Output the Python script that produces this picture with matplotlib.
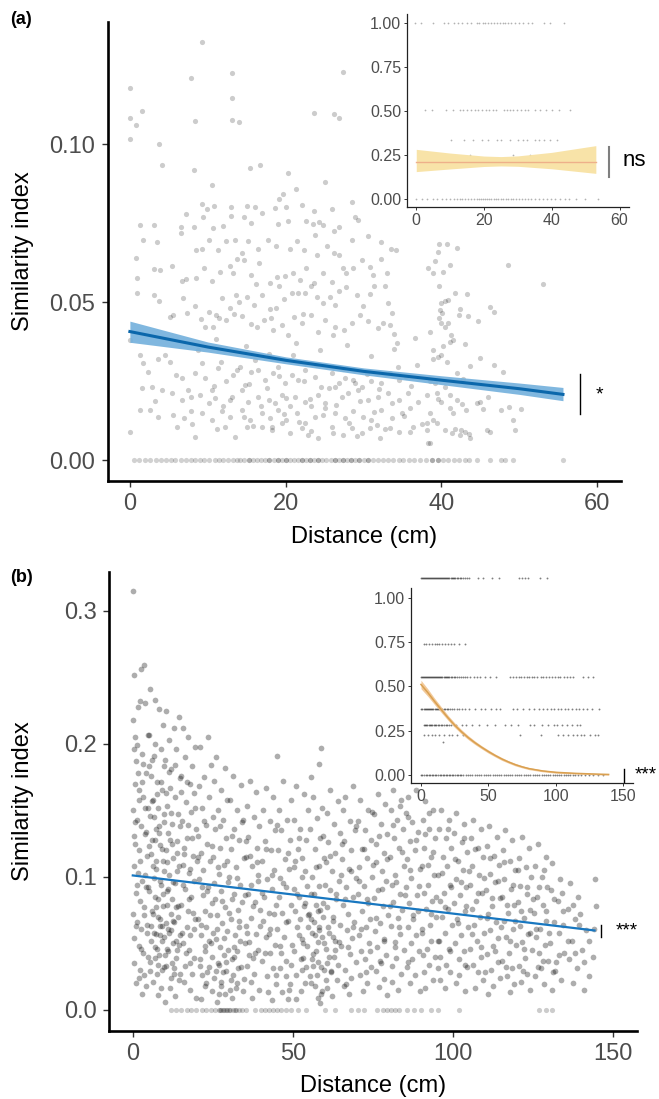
import numpy as np
import matplotlib
matplotlib.use("Agg")
import matplotlib.pyplot as plt

plt.rcParams["font.family"] = ["Liberation Sans", "DejaVu Sans"]

# ---------------- panel (a) main: distance vs similarity ----------------
a_points = [
    (9.3, 0.1323), (7.85, 0.1211), (13.06, 0.1227), (27.4, 0.1230), (0.0, 0.1178), (13.06, 0.1148),
    (0.0, 0.1084), (1.5, 0.1105), (0.8, 0.1061), (0.0, 0.1017), (8.36, 0.1074), (13.06, 0.1077),
    (14.0, 0.1072), (23.6, 0.1100), (26.2, 0.1096), (26.8, 0.1084), (3.74, 0.1002), (4.08, 0.0936),
    (8.23, 0.0918), (15.4, 0.0926), (16.7, 0.0935), (20.3, 0.0910), (25.1, 0.0882), (10.5, 0.0871),
    (19.1, 0.0826), (21.3, 0.0859), (19.6, 0.0843), (9.2, 0.0812), (7.2, 0.0780), (9.9, 0.0795),
    (10.85, 0.0805), (13.0, 0.0802), (15.1, 0.0806), (16.1, 0.0800), (18.6, 0.0797), (20.0, 0.0801),
    (22.05, 0.0807), (23.6, 0.0789), (25.9, 0.0794), (28.5, 0.0817), (1.34, 0.0743), (3.14, 0.0743),
    (6.57, 0.0737), (8.23, 0.0739), (9.4, 0.0769), (10.7, 0.0735), (12.0, 0.0742), (13.0, 0.0774),
    (14.7, 0.0770), (15.6, 0.0750), (17.0, 0.0781), (19.05, 0.0748), (20.3, 0.0758), (22.6, 0.0757),
    (23.5, 0.0749), (24.3, 0.0754), (24.8, 0.0746), (26.2, 0.0726), (26.9, 0.0739), (28.9, 0.0769),
    (29.3, 0.0761), (1.64, 0.0696), (3.44, 0.0692), (6.52, 0.0718), (8.45, 0.0664), (9.2, 0.0669),
    (10.2, 0.0697), (11.35, 0.0666), (12.3, 0.0693), (13.5, 0.0697), (14.35, 0.0655), (15.2, 0.0694),
    (16.5, 0.0669), (17.7, 0.0698), (18.7, 0.0679), (20.6, 0.0668), (21.5, 0.0694), (22.3, 0.0666),
    (23.8, 0.0713), (25.3, 0.0679), (26.2, 0.0655), (26.8, 0.0650), (28.5, 0.0697), (30.6, 0.0711),
    (32.3, 0.0692), (33.5, 0.0668), (34.2, 0.0666), (0.8, 0.0641), (3.1, 0.0604), (3.9, 0.0602),
    (5.45, 0.0615), (7.2, 0.0573), (9.5, 0.0609), (8.5, 0.0576), (10.6, 0.0567), (11.6, 0.0597),
    (12.8, 0.0615), (13.8, 0.0637), (14.65, 0.0634), (15.5, 0.0586), (16.6, 0.0623), (18.0, 0.0560),
    (18.9, 0.0581), (19.9, 0.0583), (21.0, 0.0592), (21.8, 0.0569), (22.6, 0.0608), (23.6, 0.0562),
    (24.8, 0.0592), (25.9, 0.0564), (27.3, 0.0608), (27.8, 0.0592), (28.7, 0.0608), (29.75, 0.0634),
    (30.8, 0.0613), (32.3, 0.0636), (32.96, 0.0592), (0.96, 0.0576), (0.96, 0.0528), (3.14, 0.0524),
    (3.8, 0.0504), (6.65, 0.0566), (8.3, 0.0489), (6.8, 0.0512), (10.2, 0.0468), (11.05, 0.0460),
    (11.8, 0.0512), (12.85, 0.0481), (13.6, 0.0523), (14.0, 0.0502), (15.0, 0.0515), (15.9, 0.0491),
    (16.9, 0.0523), (18.0, 0.0479), (19.1, 0.0550), (19.8, 0.0509), (20.8, 0.0530), (21.6, 0.0530),
    (22.5, 0.0528), (23.2, 0.0550), (24.0, 0.0518), (24.8, 0.0499), (25.7, 0.0516), (26.3, 0.0491),
    (26.8, 0.0534), (27.8, 0.0547), (29.1, 0.0523), (30.8, 0.0525), (31.4, 0.0550), (32.7, 0.0550),
    (33.2, 0.0497), (33.6, 0.0465), (5.6, 0.0460), (5.2, 0.0452), (7.3, 0.0465), (9.1, 0.0447),
    (9.6, 0.0423), (10.7, 0.0421), (11.5, 0.0449), (12.4, 0.0444), (13.4, 0.0462), (14.35, 0.0455),
    (15.5, 0.0430), (16.3, 0.0423), (17.2, 0.0444), (18.1, 0.0451), (18.4, 0.0412), (19.5, 0.0428),
    (20.3, 0.0396), (21.1, 0.0454), (22.05, 0.0433), (23.3, 0.0460), (24.2, 0.0407), (25.0, 0.0444),
    (26.3, 0.0423), (27.5, 0.0412), (28.5, 0.0433), (29.5, 0.0460), (30.6, 0.0439), (31.9, 0.0418),
    (32.5, 0.0433), (33.4, 0.0428), (33.9, 0.0399), (34.3, 0.0370), (0.0, 0.0381), (1.26, 0.0333),
    (2.37, 0.0280), (1.7, 0.0307), (3.56, 0.0319), (4.5, 0.0333), (5.15, 0.0312), (6.65, 0.0259),
    (8.36, 0.0275), (9.2, 0.0307), (9.6, 0.0259), (10.5, 0.0222), (11.35, 0.0291), (12.4, 0.0249),
    (13.3, 0.0270), (14.1, 0.0296), (14.8, 0.0238), (15.6, 0.0280), (16.5, 0.0286), (17.3, 0.0254),
    (18.4, 0.0275), (19.05, 0.0296), (19.9, 0.0243), (20.8, 0.0270), (21.6, 0.0254), (22.5, 0.0286),
    (23.8, 0.0264), (24.6, 0.0233), (25.9, 0.0275), (26.8, 0.0243), (27.6, 0.0259), (28.7, 0.0254),
    (29.75, 0.0233), (31.0, 0.0249), (32.3, 0.0243), (33.4, 0.0275), (34.5, 0.0254), (35.5, 0.0264),
    (36.8, 0.0301), (1.5, 0.0228), (2.8, 0.0233), (4.1, 0.0222), (5.4, 0.0212), (6.65, 0.0191),
    (7.9, 0.0201), (9.0, 0.0206), (10.1, 0.0180), (10.9, 0.0196), (12.0, 0.0170), (13.1, 0.0201),
    (14.35, 0.0222), (15.2, 0.0185), (16.5, 0.0201), (17.8, 0.0191), (18.6, 0.0180), (19.5, 0.0206),
    (20.6, 0.0170), (21.2, 0.0201), (22.5, 0.0185), (23.3, 0.0170), (24.2, 0.0206), (25.0, 0.0180),
    (26.3, 0.0233), (27.2, 0.0201), (28.0, 0.0212), (29.3, 0.0222), (30.6, 0.0191), (31.9, 0.0201),
    (33.2, 0.0212), (34.5, 0.0191), (35.7, 0.0212), (1.3, 0.0159), (2.6, 0.0159), (3.65, 0.0138),
    (5.6, 0.0143), (6.9, 0.0133), (7.9, 0.0154), (9.2, 0.0148), (10.5, 0.0127), (11.8, 0.0154),
    (12.85, 0.0138), (14.35, 0.0159), (15.4, 0.0127), (16.9, 0.0148), (18.0, 0.0133), (19.05, 0.0159),
    (20.1, 0.0127), (21.4, 0.0148), (22.5, 0.0117), (23.8, 0.0138), (25.0, 0.0164), (26.3, 0.0148),
    (27.6, 0.0133), (28.7, 0.0154), (29.95, 0.0138), (31.0, 0.0127), (32.3, 0.0159), (33.6, 0.0133),
    (34.9, 0.0148), (36.0, 0.0164), (0.0, 0.0088), (6.05, 0.0104), (8.0, 0.0113), (8.36, 0.0074),
    (11.2, 0.0098), (12.2, 0.0104), (13.5, 0.0074), (15.0, 0.0104), (15.85, 0.0108), (16.9, 0.0104),
    (18.2, 0.0096), (19.5, 0.0117), (20.55, 0.0085), (22.05, 0.0101), (23.3, 0.0093), (24.2, 0.0069),
    (26.1, 0.0085), (27.4, 0.0080), (28.5, 0.0101), (29.75, 0.0085), (30.8, 0.0101), (32.1, 0.0069),
    (33.4, 0.0101), (34.5, 0.0090), (36.4, 0.0106), (37.5, 0.0114),
    (39.7, 0.0685), (40.65, 0.0684), (42.0, 0.0671), (39.6, 0.0660), (39.2, 0.0629), (41.1, 0.0618),
    (38.3, 0.0608), (38.95, 0.0594), (40.2, 0.0597), (48.6, 0.0618), (53.0, 0.0557), (39.7, 0.0550),
    (41.7, 0.0530), (43.3, 0.0525), (40.5, 0.0504), (40.9, 0.0507), (40.0, 0.0497), (39.8, 0.0476),
    (40.1, 0.0465), (42.4, 0.0479), (42.3, 0.0458), (43.4, 0.0455), (44.7, 0.0441), (46.2, 0.0486),
    (46.7, 0.0468), (39.7, 0.0449), (40.0, 0.0434), (40.8, 0.0434), (40.5, 0.0423), (38.5, 0.0407),
    (41.2, 0.0396), (41.1, 0.0375), (41.5, 0.0381), (40.2, 0.0362), (43.0, 0.0368), (38.95, 0.0349),
    (39.6, 0.0328), (40.0, 0.0333), (40.65, 0.0312), (38.95, 0.0320), (43.7, 0.0298), (44.9, 0.0323),
    (46.7, 0.0302), (47.85, 0.0280), (42.0, 0.0275), (42.8, 0.0256), (38.5, 0.0249), (39.4, 0.0212),
    (40.5, 0.0233), (41.1, 0.0207), (42.0, 0.0191), (42.6, 0.0178), (43.2, 0.0159), (41.5, 0.0148),
    (39.6, 0.0193), (40.0, 0.0185), (38.5, 0.0148), (41.1, 0.0164), (44.5, 0.0180), (44.9, 0.0183),
    (45.3, 0.0162), (46.0, 0.0201), (47.6, 0.0159), (48.7, 0.0167), (50.2, 0.0161), (49.2, 0.0127),
    (49.4, 0.0096), (45.8, 0.0096), (46.2, 0.0090), (38.1, 0.0096), (40.5, 0.0096), (41.3, 0.0087),
    (41.7, 0.0098), (42.5, 0.0096), (43.0, 0.0089), (43.6, 0.0082), (43.7, 0.0071), (42.4, 0.0080),
    (38.3, 0.0053), (38.5, 0.0053), (38.95, 0.0127), (39.4, 0.0117), (38.1, 0.0117), (38.2, 0.0207),
    (39.2, 0.0243),
    (10.8, 0.0235), (11.7, 0.0312), (12.9, 0.0189), (13.8, 0.0286), (14.6, 0.0135), (15.3, 0.0241),
    (16.0, 0.0318), (16.8, 0.0172), (17.6, 0.0228), (18.3, 0.0105), (19.2, 0.0265), (20.0, 0.0198),
    (20.9, 0.0332), (21.7, 0.0121), (22.4, 0.0249), (23.1, 0.0192), (23.9, 0.0301), (24.8, 0.0143),
    (25.6, 0.0228), (26.5, 0.0176), (27.3, 0.0289), (28.1, 0.0118), (28.9, 0.0243), (29.6, 0.0187),
    (30.4, 0.0272), (31.3, 0.0151), (32.0, 0.0226), (32.8, 0.0098), (33.7, 0.0181), (34.4, 0.0296),
    (35.2, 0.0139), (36.1, 0.0235), (37.0, 0.0183), (5.9, 0.0268), (7.4, 0.0221), (3.2, 0.0186),
    (8.8, 0.0349), (11.1, 0.0385), (14.9, 0.0362), (17.9, 0.0337), (21.3, 0.0372), (24.4, 0.0348),
    (27.9, 0.0364), (30.9, 0.0331), (33.9, 0.0352), (36.6, 0.0387), (19.8, 0.0145), (22.9, 0.0079),
    (26.0, 0.0106), (29.2, 0.0077), (31.7, 0.0112), (35.9, 0.0090), (18.8, 0.0481), (22.2, 0.0463),
    (26.1, 0.0395), (29.9, 0.0488), (16.2, 0.0557), (24.0, 0.0651), (31.2, 0.0587), (13.2, 0.0593),
]
a_zero_x = [
    0.5, 1.2, 2.0, 2.6, 3.3, 4.0, 4.6, 5.3, 5.8, 6.5, 7.2, 7.8, 8.4, 9.0, 9.5, 10.2, 10.9, 11.5,
    12.0, 12.6, 13.2, 13.8, 14.2, 14.7, 15.3, 15.3, 15.8, 16.3, 16.8, 17.4, 17.9, 17.9, 18.5, 19.0,
    19.0, 19.5, 20.0, 20.0, 20.5, 21.1, 21.6, 22.1, 22.1, 22.6, 23.1, 23.1, 23.7, 24.2, 24.2, 24.7,
    25.2, 25.8, 26.3, 26.3, 26.8, 27.3, 27.3, 27.9, 28.4, 28.4, 28.9, 29.4, 29.4, 30.0, 30.6, 30.6,
    31.2, 31.8, 32.5, 33.1, 33.8, 34.5, 35.1, 35.8, 36.5, 37.2, 38.0, 38.8, 38.8, 39.5, 39.5, 40.2,
    40.9, 41.6, 42.3, 43.0, 43.6, 44.5, 46.2, 47.7, 48.1, 49.2, 55.6,
]
a_fit_x = [0, 10, 20, 30, 40, 50, 55.6]
a_fit_y = [0.0407, 0.0358, 0.0316, 0.0281, 0.0253, 0.0226, 0.0208]
a_fit_lo = [0.0373, 0.0342, 0.0305, 0.0270, 0.0239, 0.0208, 0.0188]
a_fit_hi = [0.0440, 0.0374, 0.0327, 0.0292, 0.0267, 0.0244, 0.0230]

# ---------------- panel (a) inset ----------------
ia_rows_y = [1.0, 0.505, 0.336, 0.25, 0.0]
ia_rows_x = [
    [-0.5, 1.5, 4.8, 8.2, 9.5, 11.0, 12.3, 13.6, 15.0, 16.2, 17.8, 18.5, 19.6, 20.4, 21.3, 22.1, 23.0,
     23.8, 24.6, 25.5, 26.3, 27.2, 28.0, 29.1, 30.3, 31.5, 33.0, 34.2, 37.8, 39.6, 43.6],
    [2.5, 4.6, 8.7, 10.9, 12.8, 13.9, 15.0, 16.1, 17.2, 18.3, 19.4, 20.5, 21.6, 22.7, 23.6, 25.8,
     26.9, 27.8, 28.7, 29.8, 30.9, 32.0, 33.1, 35.0, 36.5, 38.2, 40.1, 42.0, 45.5],
    [10.3, 14.2, 16.8, 19.5, 21.2, 23.8, 25.1, 27.6, 30.0, 31.4, 32.8, 34.9, 36.2, 37.7, 39.5, 41.5],
    [16.0, 28.6, 33.7],
    [0.0, 1.6, 3.1, 4.8, 6.2, 7.5, 8.9, 10.1, 11.2, 12.0, 12.8, 13.6, 14.4, 15.3, 16.1, 17.0, 17.8,
     18.4, 19.1, 19.7, 20.3, 20.9, 21.5, 22.1, 22.8, 23.4, 24.1, 24.9, 25.6, 26.4, 27.2, 28.0, 28.7,
     29.5, 30.4, 31.3, 32.2, 33.1, 34.0, 35.0, 36.1, 37.3, 38.6, 39.9, 41.0, 42.5, 44.0, 45.2, 47.0,
     49.8, 53.5],
]
ia_fit_x = [0, 10, 20, 25, 30, 40, 53]
ia_fit_y = [0.213, 0.213, 0.213, 0.213, 0.213, 0.213, 0.213]
ia_fit_lo = [0.157, 0.172, 0.186, 0.189, 0.187, 0.173, 0.147]
ia_fit_hi = [0.283, 0.262, 0.245, 0.242, 0.246, 0.266, 0.304]

# ---------------- panel (b) main ----------------
b_points = [
    (0.0, 0.315), (0.3, 0.252), (2.6, 0.256), (3.4, 0.259), (0.2, 0.218), (0.8, 0.205), (1.5, 0.228),
    (2.2, 0.232), (3.9, 0.231), (0.4, 0.196), (1.1, 0.187), (2.8, 0.192), (4.2, 0.178), (0.6, 0.170),
    (1.9, 0.165), (3.3, 0.160), (4.6, 0.152), (0.1, 0.150), (1.4, 0.143), (2.5, 0.138), (3.8, 0.132),
    (0.7, 0.125), (2.0, 0.120), (4.4, 0.116), (0.3, 0.108), (1.6, 0.103), (3.0, 0.097), (4.1, 0.092),
    (0.9, 0.088), (2.3, 0.082), (3.6, 0.077), (0.2, 0.072), (1.3, 0.066), (2.7, 0.061), (4.5, 0.058),
    (0.5, 0.054), (1.8, 0.048), (3.2, 0.043), (4.8, 0.040), (0.4, 0.035), (2.1, 0.030), (3.5, 0.026),
    (1.0, 0.020), (4.0, 0.018), (2.9, 0.012),
    (5.5, 0.241), (6.8, 0.233), (8.2, 0.226), (9.4, 0.214), (5.2, 0.207), (7.0, 0.200), (8.8, 0.196),
    (6.1, 0.188), (9.7, 0.183), (5.8, 0.176), (7.6, 0.171), (9.1, 0.165), (6.4, 0.158), (8.0, 0.152),
    (5.3, 0.146), (9.8, 0.141), (7.2, 0.136), (6.0, 0.128), (8.6, 0.124), (5.6, 0.117), (9.3, 0.112),
    (7.4, 0.106), (6.6, 0.099), (8.9, 0.094), (5.1, 0.089), (7.8, 0.083), (9.5, 0.078), (6.2, 0.072),
    (8.4, 0.068), (5.7, 0.063), (7.1, 0.057), (9.0, 0.052), (6.9, 0.047), (8.1, 0.041), (5.4, 0.036),
    (9.6, 0.032), (7.5, 0.027), (6.3, 0.021), (8.7, 0.016), (7.9, 0.011),
    (10.5, 0.225), (12.8, 0.212), (14.3, 0.220), (11.2, 0.203), (13.6, 0.196), (10.1, 0.188),
    (12.0, 0.181), (14.7, 0.174), (11.6, 0.167), (13.1, 0.160), (10.8, 0.153), (14.0, 0.147),
    (12.4, 0.140), (11.0, 0.133), (13.8, 0.127), (10.3, 0.120), (12.6, 0.114), (14.5, 0.108),
    (11.4, 0.101), (13.3, 0.095), (10.6, 0.089), (12.2, 0.083), (14.1, 0.078), (11.8, 0.072),
    (13.0, 0.066), (10.9, 0.061), (14.8, 0.056), (12.5, 0.050), (11.1, 0.044), (13.5, 0.039),
    (10.4, 0.033), (12.9, 0.027), (14.4, 0.022), (11.7, 0.016), (13.2, 0.010), (10.2, 0.006),
    (15.6, 0.212), (17.3, 0.205), (19.4, 0.198), (16.2, 0.190), (18.5, 0.183), (15.1, 0.176),
    (17.8, 0.170), (19.0, 0.163), (16.6, 0.156), (18.1, 0.149), (15.4, 0.142), (19.7, 0.136),
    (17.0, 0.129), (16.0, 0.122), (18.8, 0.116), (15.8, 0.109), (17.5, 0.103), (19.2, 0.097),
    (16.4, 0.091), (18.3, 0.085), (15.2, 0.079), (17.2, 0.074), (19.5, 0.068), (16.8, 0.062),
    (18.0, 0.056), (15.7, 0.050), (17.6, 0.045), (19.1, 0.039), (16.3, 0.033), (18.6, 0.027),
    (15.9, 0.021), (17.9, 0.015), (19.8, 0.009),
    (21.0, 0.198), (23.6, 0.205), (24.4, 0.184), (22.3, 0.175), (20.6, 0.168), (23.8, 0.160),
    (21.7, 0.152), (24.9, 0.145), (22.8, 0.139), (20.3, 0.131), (23.2, 0.125), (21.4, 0.118),
    (24.1, 0.112), (22.0, 0.105), (20.8, 0.098), (23.5, 0.092), (21.9, 0.086), (24.6, 0.080),
    (22.5, 0.074), (20.4, 0.068), (23.0, 0.062), (21.2, 0.056), (24.3, 0.050), (22.6, 0.044),
    (20.9, 0.038), (23.9, 0.032), (21.6, 0.026), (22.9, 0.020), (24.7, 0.014), (21.3, 0.008),
    (26.0, 0.190), (28.7, 0.182), (25.4, 0.172), (27.6, 0.165), (29.5, 0.158), (26.5, 0.150),
    (28.2, 0.143), (25.8, 0.136), (29.0, 0.129), (27.1, 0.122), (25.2, 0.115), (28.5, 0.109),
    (26.8, 0.102), (29.7, 0.096), (27.4, 0.089), (25.6, 0.083), (28.9, 0.077), (26.2, 0.071),
    (27.9, 0.065), (29.3, 0.059), (25.9, 0.053), (27.2, 0.047), (28.4, 0.041), (26.6, 0.035),
    (29.1, 0.029), (25.3, 0.024), (27.7, 0.018), (28.8, 0.012), (26.4, 0.006),
    (31.2, 0.176), (33.8, 0.169), (30.5, 0.158), (32.6, 0.150), (34.4, 0.143), (31.7, 0.136),
    (33.1, 0.128), (30.8, 0.121), (34.7, 0.114), (32.2, 0.107), (30.2, 0.100), (33.5, 0.094),
    (31.5, 0.087), (34.1, 0.081), (32.9, 0.075), (30.6, 0.068), (33.3, 0.062), (31.9, 0.056),
    (34.9, 0.050), (32.4, 0.044), (30.9, 0.038), (33.7, 0.032), (31.4, 0.026), (32.7, 0.020),
    (34.3, 0.014), (31.0, 0.009),
    (36.5, 0.172), (38.4, 0.164), (35.6, 0.153), (37.8, 0.145), (39.5, 0.138), (36.1, 0.130),
    (38.9, 0.122), (35.3, 0.115), (37.2, 0.108), (39.2, 0.101), (36.8, 0.094), (35.9, 0.087),
    (38.2, 0.081), (39.8, 0.075), (37.0, 0.069), (35.4, 0.063), (38.6, 0.057), (36.4, 0.051),
    (39.0, 0.045), (37.5, 0.039), (35.7, 0.033), (38.0, 0.027), (36.9, 0.021), (39.4, 0.015),
    (37.3, 0.009),
    (45.0, 0.191), (41.5, 0.167), (43.8, 0.160), (40.6, 0.150), (42.7, 0.142), (44.5, 0.135),
    (41.2, 0.127), (43.3, 0.120), (40.3, 0.112), (44.1, 0.105), (42.0, 0.098), (43.6, 0.091),
    (41.0, 0.085), (44.8, 0.079), (42.4, 0.073), (40.8, 0.067), (43.0, 0.061), (41.7, 0.055),
    (44.3, 0.049), (42.9, 0.043), (40.5, 0.037), (43.9, 0.031), (41.9, 0.025), (44.6, 0.019),
    (42.2, 0.013), (43.5, 0.007),
    (47.0, 0.172), (49.3, 0.158), (45.8, 0.150), (48.1, 0.143), (46.4, 0.135), (49.0, 0.128),
    (45.3, 0.120), (47.6, 0.113), (48.8, 0.106), (46.0, 0.099), (47.9, 0.092), (45.6, 0.085),
    (49.5, 0.079), (46.7, 0.073), (48.4, 0.067), (45.1, 0.061), (47.3, 0.055), (49.7, 0.049),
    (46.2, 0.043), (48.0, 0.037), (45.9, 0.031), (47.7, 0.025), (49.1, 0.019), (46.5, 0.013),
    (48.6, 0.008),
    (51.0, 0.168), (53.5, 0.162), (54.6, 0.150), (50.4, 0.143), (52.3, 0.136), (54.0, 0.128),
    (51.6, 0.121), (53.0, 0.114), (50.2, 0.107), (52.8, 0.100), (54.4, 0.093), (51.3, 0.087),
    (53.7, 0.080), (50.7, 0.074), (52.1, 0.068), (54.8, 0.062), (51.8, 0.056), (53.2, 0.050),
    (50.5, 0.044), (52.6, 0.038), (54.2, 0.032), (51.1, 0.026), (53.9, 0.020), (52.4, 0.014),
    (50.9, 0.008),
    (55.7, 0.175), (58.3, 0.185), (58.8, 0.197), (56.2, 0.160), (59.1, 0.152), (57.4, 0.144),
    (55.3, 0.136), (58.6, 0.129), (56.8, 0.121), (59.6, 0.114), (57.1, 0.107), (55.9, 0.100),
    (58.0, 0.093), (56.5, 0.087), (59.3, 0.080), (57.7, 0.074), (55.5, 0.068), (58.2, 0.062),
    (56.9, 0.056), (59.8, 0.050), (57.3, 0.044), (56.1, 0.038), (58.9, 0.032), (57.6, 0.026),
    (55.8, 0.020), (59.0, 0.014), (57.9, 0.009), (58.4, 0.005),
    (61.5, 0.165), (64.0, 0.157), (60.5, 0.148), (62.8, 0.140), (64.6, 0.133), (61.0, 0.126),
    (63.3, 0.118), (60.2, 0.111), (62.1, 0.104), (64.3, 0.097), (61.7, 0.090), (63.6, 0.083),
    (60.8, 0.077), (62.5, 0.070), (64.8, 0.064), (61.3, 0.058), (63.0, 0.052), (60.4, 0.046),
    (62.9, 0.040), (64.1, 0.034), (61.9, 0.028), (63.8, 0.022), (60.7, 0.016), (62.3, 0.010),
    (66.3, 0.160), (68.7, 0.168), (65.5, 0.150), (67.9, 0.142), (69.4, 0.135), (66.0, 0.127),
    (68.2, 0.120), (65.3, 0.113), (67.5, 0.106), (69.8, 0.099), (66.6, 0.092), (68.9, 0.085),
    (65.8, 0.079), (67.2, 0.072), (69.1, 0.066), (66.9, 0.060), (68.4, 0.054), (65.1, 0.048),
    (67.7, 0.042), (69.6, 0.036), (66.4, 0.030), (68.0, 0.024), (65.9, 0.018), (67.4, 0.012),
    (71.0, 0.158), (73.6, 0.150), (70.4, 0.142), (72.5, 0.135), (74.3, 0.128), (71.7, 0.121),
    (73.0, 0.114), (70.8, 0.107), (74.7, 0.100), (72.2, 0.093), (70.2, 0.087), (73.4, 0.080),
    (71.5, 0.074), (74.0, 0.068), (72.8, 0.062), (70.6, 0.056), (73.9, 0.050), (71.2, 0.044),
    (72.6, 0.038), (74.5, 0.032), (70.9, 0.026), (73.2, 0.020), (71.9, 0.014),
    (76.5, 0.162), (78.8, 0.155), (75.4, 0.147), (77.6, 0.140), (79.5, 0.132), (76.1, 0.125),
    (78.3, 0.118), (75.8, 0.111), (77.9, 0.104), (79.2, 0.097), (76.7, 0.090), (75.2, 0.084),
    (78.0, 0.078), (79.7, 0.071), (77.1, 0.065), (75.6, 0.059), (78.6, 0.053), (76.3, 0.047),
    (79.0, 0.041), (77.4, 0.035), (75.9, 0.029), (78.4, 0.023), (76.9, 0.017), (79.3, 0.011),
    (81.2, 0.165), (83.8, 0.158), (80.6, 0.150), (82.5, 0.143), (84.4, 0.136), (81.7, 0.129),
    (83.1, 0.122), (80.3, 0.115), (84.8, 0.108), (82.0, 0.101), (80.9, 0.094), (83.5, 0.087),
    (81.4, 0.081), (84.1, 0.075), (82.7, 0.069), (80.5, 0.063), (83.3, 0.057), (81.9, 0.051),
    (84.6, 0.045), (82.3, 0.039), (80.8, 0.033), (83.9, 0.027), (81.1, 0.021), (82.9, 0.015),
    (86.0, 0.160), (88.5, 0.165), (85.4, 0.148), (87.3, 0.141), (89.2, 0.134), (86.6, 0.127),
    (88.0, 0.120), (85.7, 0.113), (89.6, 0.106), (87.0, 0.099), (85.2, 0.092), (88.7, 0.086),
    (86.3, 0.080), (89.0, 0.074), (87.6, 0.068), (85.9, 0.062), (88.3, 0.056), (86.8, 0.050),
    (89.4, 0.044), (87.2, 0.038), (85.5, 0.032), (88.1, 0.026), (86.5, 0.020), (89.8, 0.014),
    (91.3, 0.157), (93.7, 0.150), (90.6, 0.143), (92.4, 0.136), (94.5, 0.129), (91.0, 0.122),
    (93.2, 0.115), (90.3, 0.108), (94.0, 0.101), (92.1, 0.094), (90.8, 0.088), (93.5, 0.082),
    (91.6, 0.076), (94.8, 0.070), (92.8, 0.064), (90.2, 0.058), (93.0, 0.052), (91.9, 0.046),
    (94.3, 0.040), (92.5, 0.034), (90.9, 0.028), (93.8, 0.022), (91.4, 0.016),
    (96.2, 0.150), (98.6, 0.143), (95.5, 0.136), (97.7, 0.129), (99.4, 0.122), (96.8, 0.115),
    (98.1, 0.108), (95.2, 0.101), (99.0, 0.094), (97.1, 0.088), (95.8, 0.082), (98.4, 0.076),
    (96.5, 0.070), (99.7, 0.064), (97.4, 0.058), (95.3, 0.052), (98.8, 0.046), (96.0, 0.040),
    (97.9, 0.034), (99.2, 0.028), (95.9, 0.022), (97.6, 0.016),
    (101.0, 0.148), (103.5, 0.140), (100.4, 0.133), (102.7, 0.126), (104.5, 0.119), (101.6, 0.112),
    (103.0, 0.105), (100.8, 0.098), (104.1, 0.092), (102.2, 0.086), (100.2, 0.080), (103.8, 0.074),
    (101.3, 0.068), (104.7, 0.062), (102.5, 0.056), (100.6, 0.050), (103.3, 0.044), (101.9, 0.038),
    (104.3, 0.032), (102.0, 0.026), (100.9, 0.020), (103.6, 0.014),
    (106.4, 0.143), (108.7, 0.136), (105.6, 0.129), (107.8, 0.122), (109.5, 0.115), (106.0, 0.108),
    (108.2, 0.101), (105.3, 0.094), (109.1, 0.088), (107.2, 0.082), (105.9, 0.076), (108.5, 0.070),
    (106.7, 0.064), (109.8, 0.058), (107.5, 0.052), (105.4, 0.046), (108.9, 0.040), (106.2, 0.034),
    (107.9, 0.028), (109.3, 0.022), (106.9, 0.016),
    (111.2, 0.138), (113.6, 0.130), (110.5, 0.123), (112.8, 0.116), (114.4, 0.109), (111.7, 0.102),
    (113.1, 0.096), (110.3, 0.090), (114.8, 0.084), (112.2, 0.078), (110.9, 0.072), (113.4, 0.066),
    (111.5, 0.060), (114.1, 0.054), (112.6, 0.048), (110.7, 0.042), (113.9, 0.036), (111.9, 0.030),
    (114.6, 0.024), (112.4, 0.018), (111.0, 0.012),
    (116.3, 0.135), (118.5, 0.128), (115.6, 0.120), (117.7, 0.112), (119.4, 0.105), (116.0, 0.098),
    (118.1, 0.091), (115.3, 0.085), (119.0, 0.079), (117.2, 0.073), (115.9, 0.067), (118.8, 0.061),
    (116.6, 0.055), (119.6, 0.049), (117.4, 0.043), (115.4, 0.037), (118.3, 0.031), (116.8, 0.025),
    (119.2, 0.019), (117.9, 0.013),
    (121.5, 0.130), (123.8, 0.122), (120.6, 0.114), (122.7, 0.107), (124.4, 0.100), (121.0, 0.093),
    (123.2, 0.087), (120.3, 0.081), (124.0, 0.075), (122.1, 0.069), (120.9, 0.063), (123.5, 0.057),
    (121.7, 0.051), (124.7, 0.045), (122.4, 0.039), (120.5, 0.033), (123.0, 0.027), (121.3, 0.021),
    (124.2, 0.015),
    (126.6, 0.125), (128.9, 0.115), (125.5, 0.108), (127.8, 0.100), (129.4, 0.092), (126.1, 0.085),
    (128.2, 0.079), (125.3, 0.073), (129.0, 0.067), (127.3, 0.061), (125.9, 0.055), (128.6, 0.049),
    (126.8, 0.043), (129.7, 0.037), (127.5, 0.031), (125.7, 0.025), (128.4, 0.019),
    (131.0, 0.110), (133.5, 0.098), (130.6, 0.090), (132.7, 0.082), (134.2, 0.074), (131.5, 0.066),
    (133.0, 0.058), (130.3, 0.050), (134.6, 0.043), (132.1, 0.036), (131.8, 0.029), (133.8, 0.022),
    (130.9, 0.015),
    (136.5, 0.095), (139.0, 0.085), (135.8, 0.076), (138.2, 0.068), (141.5, 0.060), (137.1, 0.052),
    (140.2, 0.045), (136.2, 0.038), (143.7, 0.040), (138.8, 0.031), (142.4, 0.025), (144.5, 0.098),
    (144.8, 0.078), (137.6, 0.020), (140.8, 0.015),
    # darker clusters
    (6.5, 0.145), (8.3, 0.138), (11.5, 0.128), (13.9, 0.118), (7.3, 0.112), (9.9, 0.104),
    (12.7, 0.096), (6.9, 0.085), (10.7, 0.079), (14.2, 0.070), (8.5, 0.063), (11.3, 0.058),
    (13.4, 0.052), (7.7, 0.046), (10.0, 0.041), (12.3, 0.035), (9.2, 0.030), (11.9, 0.024),
    (8.0, 0.070), (10.4, 0.065), (12.0, 0.060), (6.7, 0.058), (9.6, 0.055), (13.7, 0.045),
    (51.8, 0.085), (53.4, 0.078), (55.0, 0.072), (56.7, 0.066), (58.1, 0.060), (59.5, 0.070),
    (60.9, 0.062), (62.6, 0.055), (54.5, 0.048), (56.3, 0.042), (57.9, 0.036), (59.7, 0.030),
    (61.2, 0.040), (63.1, 0.045), (52.7, 0.030), (55.4, 0.025), (57.0, 0.018), (58.7, 0.012),
    (60.3, 0.022), (22.4, 0.048), (24.8, 0.040), (26.9, 0.034), (28.3, 0.028), (30.7, 0.022),
    (32.3, 0.016), (27.0, 0.012), (29.6, 0.045), (31.6, 0.040), (25.1, 0.058), (23.3, 0.028),
    (33.6, 0.052),
]
b_points_more = [
    (0.6, 0.141), (1.7, 0.178), (2.4, 0.112), (3.1, 0.185), (4.3, 0.064), (5.0, 0.123), (5.9, 0.157),
    (6.6, 0.191), (7.4, 0.077), (8.1, 0.133), (8.9, 0.171), (9.5, 0.087), (1.2, 0.094), (2.0, 0.158),
    (3.7, 0.101), (4.7, 0.207), (6.3, 0.108), (7.7, 0.162), (9.2, 0.121), (0.9, 0.063), (2.6, 0.046),
    (4.0, 0.134), (5.6, 0.052), (6.9, 0.039), (8.6, 0.097), (9.9, 0.147), (1.4, 0.199), (3.4, 0.071),
    (5.2, 0.183), (7.0, 0.128), (8.4, 0.056), (0.3, 0.131), (2.9, 0.171), (4.9, 0.092), (6.0, 0.074),
    (7.8, 0.034), (9.0, 0.063), (1.9, 0.024), (5.4, 0.029), (3.9, 0.152),
    (10.3, 0.163), (11.1, 0.091), (11.9, 0.148), (12.5, 0.067), (13.2, 0.184), (13.9, 0.104),
    (14.6, 0.138), (15.3, 0.058), (16.1, 0.117), (16.9, 0.171), (17.6, 0.083), (18.4, 0.129),
    (19.2, 0.061), (19.9, 0.112), (10.8, 0.046), (12.2, 0.125), (13.6, 0.077), (15.0, 0.164),
    (16.5, 0.043), (17.9, 0.106), (19.5, 0.152), (11.4, 0.179), (14.3, 0.049), (18.0, 0.035),
    (12.9, 0.031), (15.7, 0.094), (17.1, 0.139), (18.7, 0.073), (10.6, 0.111), (14.9, 0.027),
    (20.5, 0.115), (21.3, 0.064), (22.2, 0.142), (23.1, 0.089), (23.9, 0.052), (24.7, 0.123),
    (25.5, 0.095), (26.3, 0.061), (27.1, 0.138), (27.9, 0.082), (28.6, 0.054), (29.4, 0.112),
    (30.1, 0.073), (30.9, 0.131), (31.7, 0.047), (32.5, 0.099), (33.3, 0.067), (34.1, 0.141),
    (34.9, 0.086), (35.8, 0.058), (36.6, 0.116), (37.4, 0.078), (38.2, 0.043), (39.1, 0.097),
    (39.8, 0.063), (20.9, 0.033), (22.7, 0.018), (24.1, 0.071), (25.9, 0.029), (27.5, 0.021),
    (29.0, 0.036), (31.1, 0.083), (32.9, 0.031), (34.6, 0.023), (36.2, 0.041), (38.7, 0.111),
    (21.7, 0.092), (26.7, 0.107), (30.5, 0.015), (35.2, 0.127),
    (40.4, 0.088), (41.6, 0.121), (42.5, 0.057), (43.4, 0.101), (44.2, 0.072), (45.1, 0.139),
    (46.0, 0.048), (46.8, 0.095), (47.7, 0.066), (48.5, 0.118), (49.4, 0.034), (50.3, 0.091),
    (51.2, 0.062), (52.0, 0.129), (52.9, 0.053), (53.8, 0.104), (54.7, 0.071), (55.6, 0.087),
    (56.4, 0.033), (57.3, 0.079), (58.2, 0.108), (59.1, 0.055), (60.0, 0.094), (60.8, 0.035),
    (61.7, 0.116), (62.6, 0.067), (63.5, 0.087), (64.4, 0.051), (65.3, 0.125), (66.2, 0.083),
    (67.1, 0.047), (68.0, 0.104), (68.9, 0.062), (69.8, 0.138), (44.6, 0.026), (48.9, 0.015),
    (53.3, 0.039), (57.8, 0.051), (62.0, 0.029), (66.7, 0.019), (41.2, 0.043), (50.8, 0.112),
    (59.4, 0.131), (64.9, 0.101), (56.0, 0.058), (58.6, 0.075),
    (70.5, 0.097), (71.4, 0.061), (72.3, 0.121), (73.2, 0.083), (74.1, 0.044), (75.0, 0.109),
    (75.9, 0.069), (76.8, 0.131), (77.7, 0.091), (78.6, 0.052), (79.5, 0.113), (80.4, 0.078),
    (81.3, 0.139), (82.2, 0.096), (83.1, 0.062), (84.0, 0.119), (84.9, 0.086), (85.8, 0.145),
    (86.7, 0.105), (87.6, 0.071), (88.5, 0.128), (89.4, 0.093), (90.3, 0.061), (91.2, 0.132),
    (92.1, 0.109), (93.0, 0.072), (93.9, 0.119), (94.8, 0.085), (95.7, 0.052), (96.6, 0.103),
    (97.5, 0.077), (98.4, 0.136), (99.3, 0.092), (72.8, 0.028), (77.2, 0.037), (81.9, 0.047),
    (86.1, 0.036), (90.7, 0.041), (95.2, 0.031), (99.0, 0.044), (74.6, 0.149), (83.6, 0.153),
    (92.6, 0.148),
    (100.5, 0.113), (101.5, 0.065), (102.4, 0.096), (103.3, 0.129), (104.2, 0.078), (105.1, 0.104),
    (106.0, 0.057), (106.9, 0.121), (107.8, 0.088), (108.7, 0.047), (109.6, 0.099), (110.5, 0.069),
    (111.4, 0.114), (112.3, 0.084), (113.2, 0.044), (114.1, 0.097), (115.0, 0.062), (115.9, 0.111),
    (116.8, 0.079), (117.7, 0.052), (118.6, 0.094), (119.5, 0.067), (120.4, 0.105), (121.3, 0.074),
    (122.2, 0.046), (123.1, 0.092), (124.0, 0.058), (125.0, 0.083), (126.0, 0.061), (127.0, 0.092),
    (128.0, 0.037), (129.0, 0.074), (130.0, 0.058), (131.5, 0.083), (133.0, 0.041), (134.5, 0.064),
    (136.0, 0.052), (137.5, 0.079), (139.5, 0.064), (141.0, 0.036), (142.5, 0.052), (144.0, 0.061),
    (103.8, 0.034), (110.1, 0.028), (116.4, 0.032), (121.8, 0.029), (126.5, 0.032), (131.2, 0.028),
    (138.0, 0.043), (128.5, 0.105), (134.0, 0.088), (139.8, 0.072),
]
b_zero_x = [
    12.0, 13.6, 15.2, 17.0, 18.3, 19.6, 21.5, 23.0, 24.4, 25.6, 26.8, 27.2, 27.7, 28.1, 28.6, 29.0,
    29.5, 30.0, 30.4, 31.3, 31.8, 32.2, 33.1, 34.0, 35.2, 38.3, 40.0, 41.4, 42.6, 43.8, 45.0, 46.3,
    47.9, 49.5, 51.7, 54.0, 60.1, 63.2, 68.3, 70.4, 72.1, 76.2, 78.0, 79.4, 80.6, 81.8, 83.1, 85.5,
    87.9, 90.1, 93.0, 95.4, 102.0, 126.8, 128.9, 131.0,
]
b_fit_x = [0, 144.2]
b_fit_y = [0.101, 0.0596]

# ---------------- panel (b) inset ----------------
ib_rows_y = [1.109, 0.74, 0.554, 0.369, 0.279, 0.223, 0.185, 0.0]
ib_rows_x = [
    [0.2, 0.9, 1.6, 2.4, 3.1, 3.8, 4.5, 5.3, 6.0, 6.8, 7.5, 8.1, 8.9, 9.6, 10.4, 11.0, 11.8, 12.5,
     13.3, 14.1, 14.8, 15.6, 16.3, 17.1, 17.9, 18.6, 19.4, 20.2, 21.0, 21.9, 22.7, 23.6, 24.5, 25.3,
     26.4, 27.5, 28.6, 29.8, 31.0, 32.4, 34.0, 35.8, 42.0, 46.1, 52.3, 58.0, 72.5, 74.8, 77.0, 79.5,
     88.2, 93.0],
    [2.0, 4.1, 6.0, 8.3, 10.1, 11.9, 13.6, 15.8, 17.5, 19.9, 22.0, 24.2, 28.1, 32.3],
    [0.1, 0.8, 1.5, 2.2, 2.9, 3.6, 4.4, 5.1, 5.8, 6.5, 7.3, 8.0, 8.8, 9.5, 10.3, 11.0, 11.8, 12.6,
     13.4, 14.2, 15.0, 15.9, 16.7, 17.6, 18.5, 19.3, 20.2, 21.1, 22.0, 23.1, 24.2, 25.4, 26.6, 27.9,
     29.3, 30.8, 32.5, 34.0, 36.5, 39.0, 41.8, 44.0, 47.3, 51.2, 55.8, 66.0, 68.5, 70.3, 72.6, 74.1,
     76.0, 78.2, 80.1, 82.5, 84.0, 86.3, 88.7, 90.2, 92.5, 94.8, 97.0, 99.1, 101.5, 103.2, 105.6,
     108.0, 110.4, 113.0, 120.2, 124.0, 127.4],
    [0.3, 1.1, 1.9, 2.7, 3.5, 4.3, 5.1, 5.9, 6.7, 7.6, 8.4, 9.2, 10.1, 11.0, 11.9, 12.8, 13.7, 14.7,
     15.7, 16.8, 17.9, 19.1, 20.4, 21.8, 23.2, 24.8, 26.5, 28.3, 30.2, 32.5, 35.8, 40.1, 44.5, 47.8,
     52.0, 55.4, 58.7, 68.0, 71.5, 75.8, 80.0, 83.4, 87.6, 90.3, 93.0, 96.5, 98.9, 101.4, 104.0,
     106.8, 109.2, 112.0, 114.5, 117.3, 120.0, 123.1, 126.4, 132.2],
    [2.1, 3.0, 3.9, 4.8, 5.7, 6.6, 7.5, 8.4, 9.3, 10.3, 11.3, 12.3, 13.4, 14.5, 15.7, 16.9, 18.2,
     19.6, 21.0, 22.6, 24.3, 26.0, 30.1, 33.5, 38.0, 43.2, 49.0, 55.0, 62.5, 66.8, 72.0, 80.5, 83.8,
     90.0, 94.2, 98.6, 101.0, 104.5, 108.3, 112.0, 115.4, 118.0],
    [2.0, 5.5, 8.0, 10.6, 13.0, 17.2, 20.5, 22.8, 27.0, 31.5, 73.3, 89.0, 101.5, 105.0, 108.8, 112.3,
     115.6, 118.2, 121.0, 125.3, 128.7, 131.2],
    [16.0],
    [0.0, 1.1, 2.3, 3.4, 4.6, 5.7, 6.9, 8.0, 9.2, 10.3, 11.5, 12.6, 13.8, 14.9, 16.1, 17.2, 18.4,
     19.5, 20.7, 21.8, 23.0, 24.1, 25.3, 26.4, 27.6, 28.7, 29.9, 31.5, 33.2, 34.8, 36.5, 38.1, 39.8,
     41.4, 43.1, 44.7, 46.4, 48.0, 49.7, 51.3, 53.0, 54.6, 56.3, 57.9, 59.6, 61.2, 62.9, 64.5, 66.2,
     67.8, 69.5, 71.1, 72.8, 74.4, 76.1, 77.7, 79.4, 81.0, 82.7, 84.3, 86.0, 87.6, 89.3, 90.9, 92.6,
     94.2, 95.9, 97.5, 99.2, 100.8, 102.5, 104.1, 105.8, 107.4, 109.1, 110.7, 112.4, 114.0, 116.3,
     118.9, 121.5, 124.6, 127.8, 131.2, 134.9],
]
ib_fit_x = [0, 5, 10, 15, 20, 25, 30, 35, 40, 45, 50, 55, 60, 65, 70, 75, 80, 90, 100, 115, 130, 139]
ib_fit_y = [0.51, 0.465, 0.415, 0.368, 0.322, 0.28, 0.243, 0.21, 0.181, 0.155, 0.131, 0.109, 0.089,
            0.072, 0.057, 0.045, 0.035, 0.022, 0.014, 0.008, 0.004, 0.002]
ib_fit_halfw = [0.024, 0.021, 0.018, 0.016, 0.014, 0.013, 0.012, 0.011, 0.010, 0.009, 0.009, 0.008,
                0.008, 0.007, 0.007, 0.006, 0.006, 0.005, 0.005, 0.004, 0.004, 0.004]

TICK_GREY = "#4d4d4d"
W, H = 659, 1099


def frac_rect(left, top, right, bottom):
    return [left / W, 1 - bottom / H, (right - left) / W, (bottom - top) / H]


def style_main(ax):
    for s in ("top", "right"):
        ax.spines[s].set_visible(False)
    for s in ("left", "bottom"):
        ax.spines[s].set_linewidth(1.9)
        ax.spines[s].set_color("black")
    ax.tick_params(length=4, width=1.0, color="#333333", labelsize=17,
                   labelcolor=TICK_GREY, pad=5)
    ax.patch.set_alpha(0)


def style_inset(ax):
    for s in ("top", "right"):
        ax.spines[s].set_visible(False)
    for s in ("left", "bottom"):
        ax.spines[s].set_linewidth(0.9)
        ax.spines[s].set_color("#222222")
    ax.tick_params(length=2.5, width=0.7, color="#333333", labelsize=11.5,
                   labelcolor=TICK_GREY, pad=1.5)


fig = plt.figure(figsize=(6.59, 10.99), dpi=100)

# ======== panel a ========
ax_a = fig.add_axes(frac_rect(107.6, 21.8, 621, 480.6))
style_main(ax_a)
pa = np.array(a_points)
ax_a.scatter(pa[:, 0], pa[:, 1], s=14, color="black", alpha=0.2, linewidths=0, zorder=2)
ax_a.scatter(a_zero_x, np.zeros(len(a_zero_x)), s=14, color="black", alpha=0.18,
             linewidths=0, zorder=2)
ax_a.fill_between(a_fit_x, a_fit_lo, a_fit_hi, color="#72b0dc", alpha=0.9, lw=0, zorder=3)
ax_a.plot(a_fit_x, a_fit_y, color="#0b67ab", lw=2.2, zorder=4)
ax_a.set_xlim(-2.86, 63.05)
ax_a.set_ylim(-0.0065, 0.1388)
ax_a.set_xticks([0, 20, 40, 60])
ax_a.set_yticks([0.0, 0.05, 0.10])
ax_a.set_yticklabels(["0.00", "0.05", "0.10"])
ax_a.plot([57.8, 57.8], [0.0146, 0.0274], color="black", lw=1.0, clip_on=False)
ax_a.text(59.8, 0.0205, "*", fontsize=14, ha="left", va="center")

fig.text(23 / W, 1 - 251 / H, "Similarity index", rotation=90, ha="center", va="center",
         fontsize=17)
fig.text(364 / W, 1 - 537 / H, "Distance (cm)", ha="center", va="center", fontsize=17)
fig.text(10 / W, 1 - 19 / H, "(a)", ha="left", va="center", fontsize=13, fontweight="bold")

# inset a
ax_ia = fig.add_axes(frac_rect(406.6, 14, 628.7, 207.3))
style_inset(ax_ia)
for ry, rx in zip(ia_rows_y, ia_rows_x):
    ax_ia.scatter(rx, np.full(len(rx), ry), s=1.6, color="black", alpha=0.3, linewidths=0)
ax_ia.fill_between(ia_fit_x, ia_fit_lo, ia_fit_hi, color="#f8e2a3", alpha=0.95, lw=0, zorder=3)
ax_ia.plot(ia_fit_x, ia_fit_y, color="#eeb08a", lw=1.0, zorder=4)
ax_ia.set_xlim(-2.85, 62.7)
ax_ia.set_ylim(-0.045, 1.049)
ax_ia.set_xticks([0, 20, 40, 60])
ax_ia.set_yticks([0, 0.25, 0.5, 0.75, 1.0])
ax_ia.set_yticklabels(["0.00", "0.25", "0.50", "0.75", "1.00"])
ax_ia.plot([56.9, 56.9], [0.128, 0.295], color="#7f7f7f", lw=1.5, clip_on=False)
ax_ia.text(60.8, 0.218, "ns", fontsize=16, ha="left", va="center")

# ======== panel b ========
ax_b = fig.add_axes(frac_rect(108.9, 571.7, 636.8, 1030.7))
style_main(ax_b)
pb = np.array(b_points + b_points_more)
ax_b.scatter(pb[:, 0], pb[:, 1], s=17, color="black", alpha=0.32, linewidths=0, zorder=2)
ax_b.scatter(b_zero_x, np.zeros(len(b_zero_x)), s=14, color="black", alpha=0.2,
             linewidths=0, zorder=2)
ax_b.plot(b_fit_x, b_fit_y, color="#1877c0", lw=1.6, zorder=4)
ax_b.set_xlim(-7.46, 157.4)
ax_b.set_ylim(-0.0158, 0.3295)
ax_b.set_xticks([0, 50, 100, 150])
ax_b.set_yticks([0.0, 0.1, 0.2, 0.3])
ax_b.set_yticklabels(["0.0", "0.1", "0.2", "0.3"])
ax_b.plot([146.2, 146.2], [0.055, 0.064], color="black", lw=1.0, clip_on=False)
ax_b.text(150.9, 0.0595, "***", fontsize=13.5, ha="left", va="center")

fig.text(23 / W, 1 - 801 / H, "Similarity index", rotation=90, ha="center", va="center",
         fontsize=17)
fig.text(372.9 / W, 1 - 1085.6 / H, "Distance (cm)", ha="center", va="center", fontsize=17)
fig.text(10 / W, 1 - 578 / H, "(b)", ha="left", va="center", fontsize=13, fontweight="bold")

# inset b
ax_ib = fig.add_axes(frac_rect(410.7, 588.3, 633.3, 783.3))
style_inset(ax_ib)
for ry, rx in zip(ib_rows_y, ib_rows_x):
    ax_ib.scatter(rx, np.full(len(rx), ry), s=1.8, color="black", alpha=0.5, linewidths=0,
                  clip_on=False)
lo = np.array(ib_fit_y) - np.array(ib_fit_halfw)
hi = np.array(ib_fit_y) + np.array(ib_fit_halfw)
ax_ib.fill_between(ib_fit_x, lo, hi, color="#f0c088", alpha=0.85, lw=0, zorder=3)
ax_ib.plot(ib_fit_x, ib_fit_y, color="#d9a050", lw=1.1, zorder=4)
ax_ib.set_xlim(-7.6, 157.3)
ax_ib.set_ylim(-0.048, 1.053)
ax_ib.set_xticks([0, 50, 100, 150])
ax_ib.set_yticks([0, 0.25, 0.5, 0.75, 1.0])
ax_ib.set_yticklabels(["0.00", "0.25", "0.50", "0.75", "1.00"])
ax_ib.plot([150.4, 150.4], [-0.04, 0.032], color="black", lw=1.0, clip_on=False)
ax_ib.text(158.5, 0.0, "***", fontsize=13.5, ha="left", va="center")

fig.savefig("out.png", dpi=100)
